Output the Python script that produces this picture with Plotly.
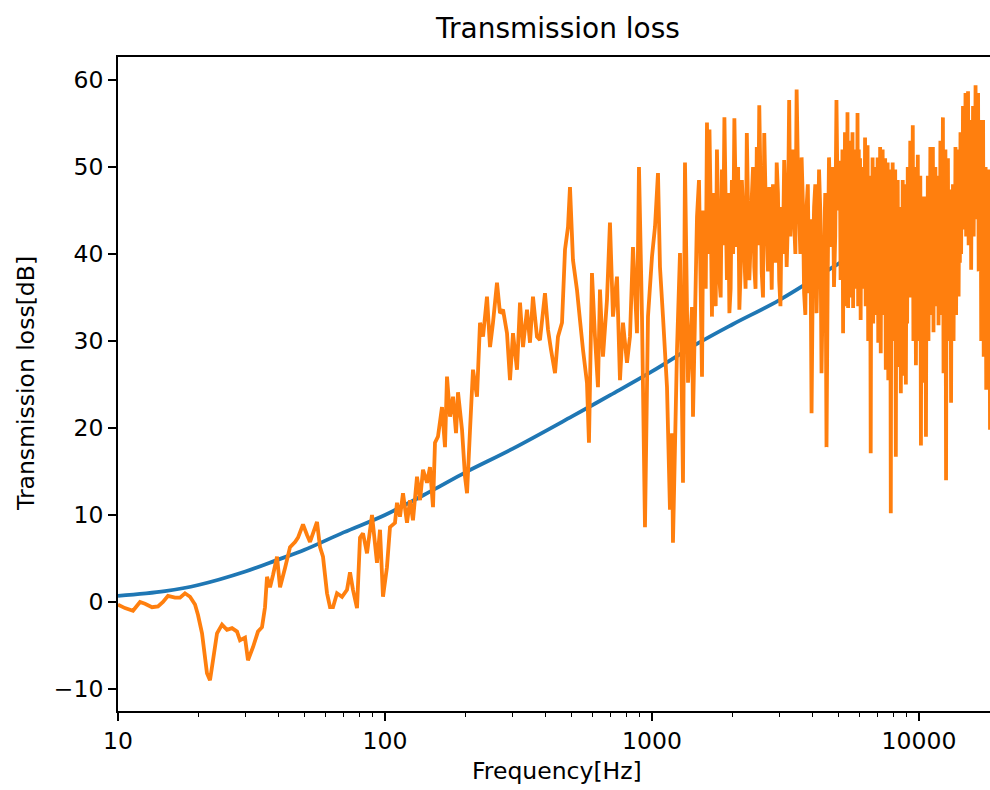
import numpy as np
import plotly.graph_objects as go

# ---------------- data ----------------
# Smooth theoretical curve (blue)
blue_freq = [10, 15, 20, 30, 40, 50, 70, 100, 150, 200, 300, 500, 700, 1000,
             1500, 2000, 3000, 5000, 7000, 10000, 15000, 20000]
blue_tl = [0.7, 1.25, 1.95, 3.5, 4.9, 6.0, 8.0, 10.0, 12.8, 14.9, 17.6, 21.3, 23.8, 26.5,
           29.8, 31.9, 34.7, 38.9, 41.6, 44.3, 47.7, 50.0]

# Measured curve (orange), low-frequency part
meas_freq_a = [10.0, 10.62, 11.38, 12.09, 12.62, 13.41, 14.12, 14.74, 15.39, 16.35,
               17.07, 17.82, 18.61, 19.43, 19.94, 20.64, 21.54, 22.11, 22.69, 23.49,
               24.52, 25.60, 26.73, 27.91, 28.64, 29.90, 30.68, 32.03, 33.44, 34.62,
               35.53, 36.15, 37.10, 38.07, 39.41, 40.45, 42.23, 44.09, 46.03, 47.23,
               49.31, 51.05, 52.39, 55.64, 57.10, 58.59, 60.65, 62.24, 63.87, 66.11,
               69.03, 72.07, 73.96, 75.89, 78.56, 80.62, 82.72, 85.63, 89.40, 93.33,
               95.79, 98.29, 101.7, 104.4]
meas_tl_a = [-0.3, -0.7, -1.0, 0.0, -0.2, -0.6, -0.5, 0.0, 0.7, 0.5,
             0.5, 1.0, 0.6, -0.3, -1.5, -3.6, -8.2, -9.0, -6.7, -3.6,
             -2.6, -3.2, -3.0, -3.4, -4.4, -4.1, -6.7, -5.2, -3.4, -2.9,
             -0.6, 2.9, 1.7, 3.1, 5.2, 1.7, 3.9, 6.3, 6.9, 7.4,
             8.9, 7.7, 6.9, 9.2, 6.3, 5.2, 1.0, -0.6, -0.6, 1.0,
             0.6, 1.4, 3.4, 1.4, -0.7, 7.4, 7.9, 5.6, 10.0, 4.5,
             8.3, 0.6, 4.0, 8.6]

meas_freq_b = [109.0, 110.9, 113.8, 116.8, 120.9, 124.1, 127.3, 131.8, 135.3, 138.8,
               143.7, 147.4, 151.3, 153.9, 157.9, 163.5, 167.8, 170.7, 175.2, 179.8,
               184.5, 187.7, 194.3, 199.4, 202.9, 208.2, 213.6, 221.1, 226.9, 232.9,
               241.0, 247.4, 253.8, 262.7, 269.6, 276.7, 286.4, 293.9, 301.6, 312.2,
               320.4, 328.8, 340.3, 349.2, 358.3, 370.9]
meas_tl_b = [9.1, 11.4, 9.8, 12.5, 9.1, 11.7, 9.4, 14.4, 11.7, 15.2,
             13.7, 15.5, 10.9, 18.3, 19.0, 22.4, 17.8, 25.9, 21.3, 23.6,
             19.4, 24.1, 19.8, 14.4, 12.5, 19.8, 26.7, 23.6, 32.1, 30.5,
             35.1, 29.3, 32.1, 36.7, 33.2, 33.6, 30.9, 25.5, 30.9, 26.7,
             34.4, 29.3, 33.6, 29.8, 35.1, 30.5]

meas_freq_c = [380.6, 397.4, 407.9, 418.6, 433.3, 444.6, 460.2, 472.3, 484.7, 493.0,
               505.9, 523.6, 537.4, 551.5, 570.8, 580.7, 595.9, 611.6, 627.6, 638.5,
               655.3, 678.2, 696.0, 714.3, 739.4, 758.8, 778.7, 806.0, 827.1, 848.8,
               878.6, 893.9, 917.4, 941.4, 966.1, 1000.0, 1026.2, 1053.1, 1071.4, 1099.5,
               1138.1, 1167.8, 1188.4, 1198.4, 1240.7, 1273.2, 1306.5, 1329.3, 1364.3, 1412.1,
               1424.3, 1474.4, 1499.8]
meas_tl_c = [30.1, 35.5, 31.3, 29.0, 26.3, 30.5, 32.1, 40.5, 43.1, 47.7,
             39.3, 35.9, 32.4, 29.0, 25.2, 18.3, 37.8, 30.5, 24.7, 35.9,
             28.2, 34.7, 43.6, 32.8, 37.4, 25.5, 32.1, 27.5, 30.5, 40.8,
             30.9, 50.0, 32.8, 8.6, 32.8, 39.7, 43.1, 49.3, 38.5, 32.8,
             24.7, 10.6, 19.4, 6.8, 29.0, 40.1, 13.7, 50.5, 25.2, 33.9,
             21.3, 44.3, 48.5]

# dense parts: uniformly sampled (log-spaced) between the given end frequencies
meas_d_start, meas_d_end = 1539.3, 5015.2
meas_tl_d = [25.9, 45, 40.8, 36, 55.1, 40, 54.3, 45, 32.8, 47,
             38.5, 34, 52.0, 44, 37.0, 35, 49.7, 41, 55.7, 46,
             37.0, 47, 33.2, 36, 48.5, 40, 55.6, 47, 40.8, 50,
             33.6, 38, 48.5, 45, 39.7, 36, 53.9, 45, 37.0, 41,
             46.6, 50, 38.5, 36, 52.3, 41, 57.1, 48, 37.8, 35,
             53.9, 47, 42.8, 38, 47.7, 44, 35.9, 48, 43.9, 39,
             50.5, 47, 37.0, 34, 45.4, 40, 50.8, 46, 38.5, 44,
             57.7, 42, 48.5, 52, 43.6, 40, 58.9, 50, 44.7, 40,
             51.1, 46, 35.5, 33, 45.4, 48, 35.5, 44, 21.7, 38,
             45.4, 48, 33.2, 40, 49.7, 45, 26.3, 36, 40.8, 47,
             17.8, 38, 51.1, 46, 40.8, 50, 36.2, 42, 57.7, 45,
             50.5]

meas_e_start, meas_e_end = 5058.0, 18450.0
meas_tl_e = [50.5, 37, 48, 40, 52, 30.9, 50, 35, 54, 34, 51, 37, 56.3, 33.8, 52, 38,
             53, 35, 50, 39, 54, 33.8, 51, 36, 52, 36, 49, 40, 56.2, 34, 52, 37,
             51, 32.4, 48, 36, 50, 36, 47, 39, 53.4, 34, 50, 37, 52.5, 30, 49, 35,
             48, 17.1, 47, 33, 51.1, 32, 48, 36, 50, 33, 47, 37, 51.1, 29.8, 48, 34,
             52.3, 28.6, 49, 33, 52, 35, 48, 38, 51, 26.7, 48, 32, 50.5, 25.5, 47, 31,
             49.7, 10.2, 47, 30, 50.5, 30, 46, 34, 49.7, 16.7, 46, 29, 48.5, 27, 45, 31,
             45.4, 24.0, 44, 30, 48.5, 26, 45, 31, 48, 25, 44, 32, 50, 35.1, 47, 38,
             53, 35, 49, 38, 54.8, 30, 50, 35, 50, 27.2, 47, 32, 51.4, 30, 48, 34,
             49, 18.0, 46, 29, 46.6, 25.2, 44, 31, 46.6, 19.0, 45, 30, 49, 30, 46, 34,
             52.3, 33, 49, 37, 52.3, 31, 48, 36, 50, 34, 47, 38, 49, 31.8, 46, 35,
             53, 33, 49, 37, 55.7, 26.3, 50, 32, 52, 14.0, 48, 30, 51, 30, 47, 34,
             47.4, 22.9, 45, 30, 48, 30, 46, 34, 52.3, 33, 49, 37, 52, 35.1, 49, 39,
             54, 40, 51, 43, 57, 42.8, 53, 45, 58.5, 42, 55, 45, 58.7, 41, 55, 44,
             55.4, 38.2, 52, 42, 57, 42, 54, 45, 59.4, 44, 56, 47, 58.5, 38, 54, 42,
             55.4, 30, 52, 35, 55.4, 28.2, 50, 33, 50, 24.4, 47, 30, 49.7, 28, 46, 19.8]

meas_freq_d = list(np.geomspace(meas_d_start, meas_d_end, len(meas_tl_d)))
meas_freq_e = list(np.geomspace(meas_e_start, meas_e_end, len(meas_tl_e)))

meas_freq = meas_freq_a + meas_freq_b + meas_freq_c + meas_freq_d + meas_freq_e
meas_tl = meas_tl_a + meas_tl_b + meas_tl_c + meas_tl_d + meas_tl_e

x_major = [10, 100, 1000, 10000]
x_major_text = ["10", "100", "1000", "10000"]
x_minor = [20, 30, 40, 50, 60, 70, 80, 90, 200, 300, 400, 500, 600, 700, 800, 900,
           2000, 3000, 4000, 5000, 6000, 7000, 8000, 9000, 20000]
y_ticks = [-10, 0, 10, 20, 30, 40, 50, 60]
y_ticks_text = ["\u221210", "0", "10", "20", "30", "40", "50", "60"]

# ---------------- figure ----------------
FONT = "DejaVu Sans"
fig = go.Figure()
fig.add_trace(go.Scatter(x=blue_freq, y=blue_tl, mode="lines",
                         line=dict(color="#1f77b4", width=3.8, shape="spline"),
                         showlegend=False))
fig.add_trace(go.Scatter(x=meas_freq, y=meas_tl, mode="lines",
                         line=dict(color="#ff7f0e", width=3.8, simplify=False),
                         showlegend=False))

W, H = 990, 790
L, R, T, B = 118, 0, 57, 79
pw, ph = W - L - R, H - T - B
cx = (557 - L) / pw

fig.update_layout(
    width=W, height=H,
    margin=dict(l=L, r=R, t=T, b=B, pad=0),
    paper_bgcolor="white", plot_bgcolor="white",
    font=dict(family=FONT, color="black"),
    xaxis=dict(type="log", range=[1, np.log10(18450)],
               showline=True, linecolor="black", linewidth=1.9, mirror=True,
               showgrid=False, zeroline=False,
               ticks="outside", ticklen=8, tickwidth=1.9, tickcolor="black",
               tickvals=x_major, ticktext=x_major_text,
               tickfont=dict(family=FONT, size=23.5, color="black"),
               minor=dict(ticks="outside", ticklen=4.5, tickwidth=1.4, tickcolor="black",
                          tickvals=x_minor, showgrid=False)),
    yaxis=dict(range=[-12.53, 62.64],
               showline=True, linecolor="black", linewidth=1.9, mirror=False,
               showgrid=False, zeroline=False,
               ticks="outside", ticklen=8, tickwidth=1.9, tickcolor="black",
               tickvals=y_ticks, ticktext=y_ticks_text,
               tickfont=dict(family=FONT, size=23.5, color="black")),
    annotations=[
        dict(text="Transmission loss", xref="paper", yref="paper",
             x=cx, y=(H - B - 28) / ph, xanchor="center", yanchor="middle",
             showarrow=False, font=dict(family=FONT, size=28, color="black")),
        dict(text="Frequency[Hz]", xref="paper", yref="paper",
             x=cx, y=(H - B - 771) / ph, xanchor="center", yanchor="middle",
             showarrow=False, font=dict(family=FONT, size=23.5, color="black")),
        dict(text="Transmission loss[dB]", xref="paper", yref="paper",
             x=(26 - L) / pw, y=0.5, xanchor="center", yanchor="middle", textangle=-90,
             showarrow=False, font=dict(family=FONT, size=23.5, color="black")),
    ],
)

fig.write_html("out.html")
